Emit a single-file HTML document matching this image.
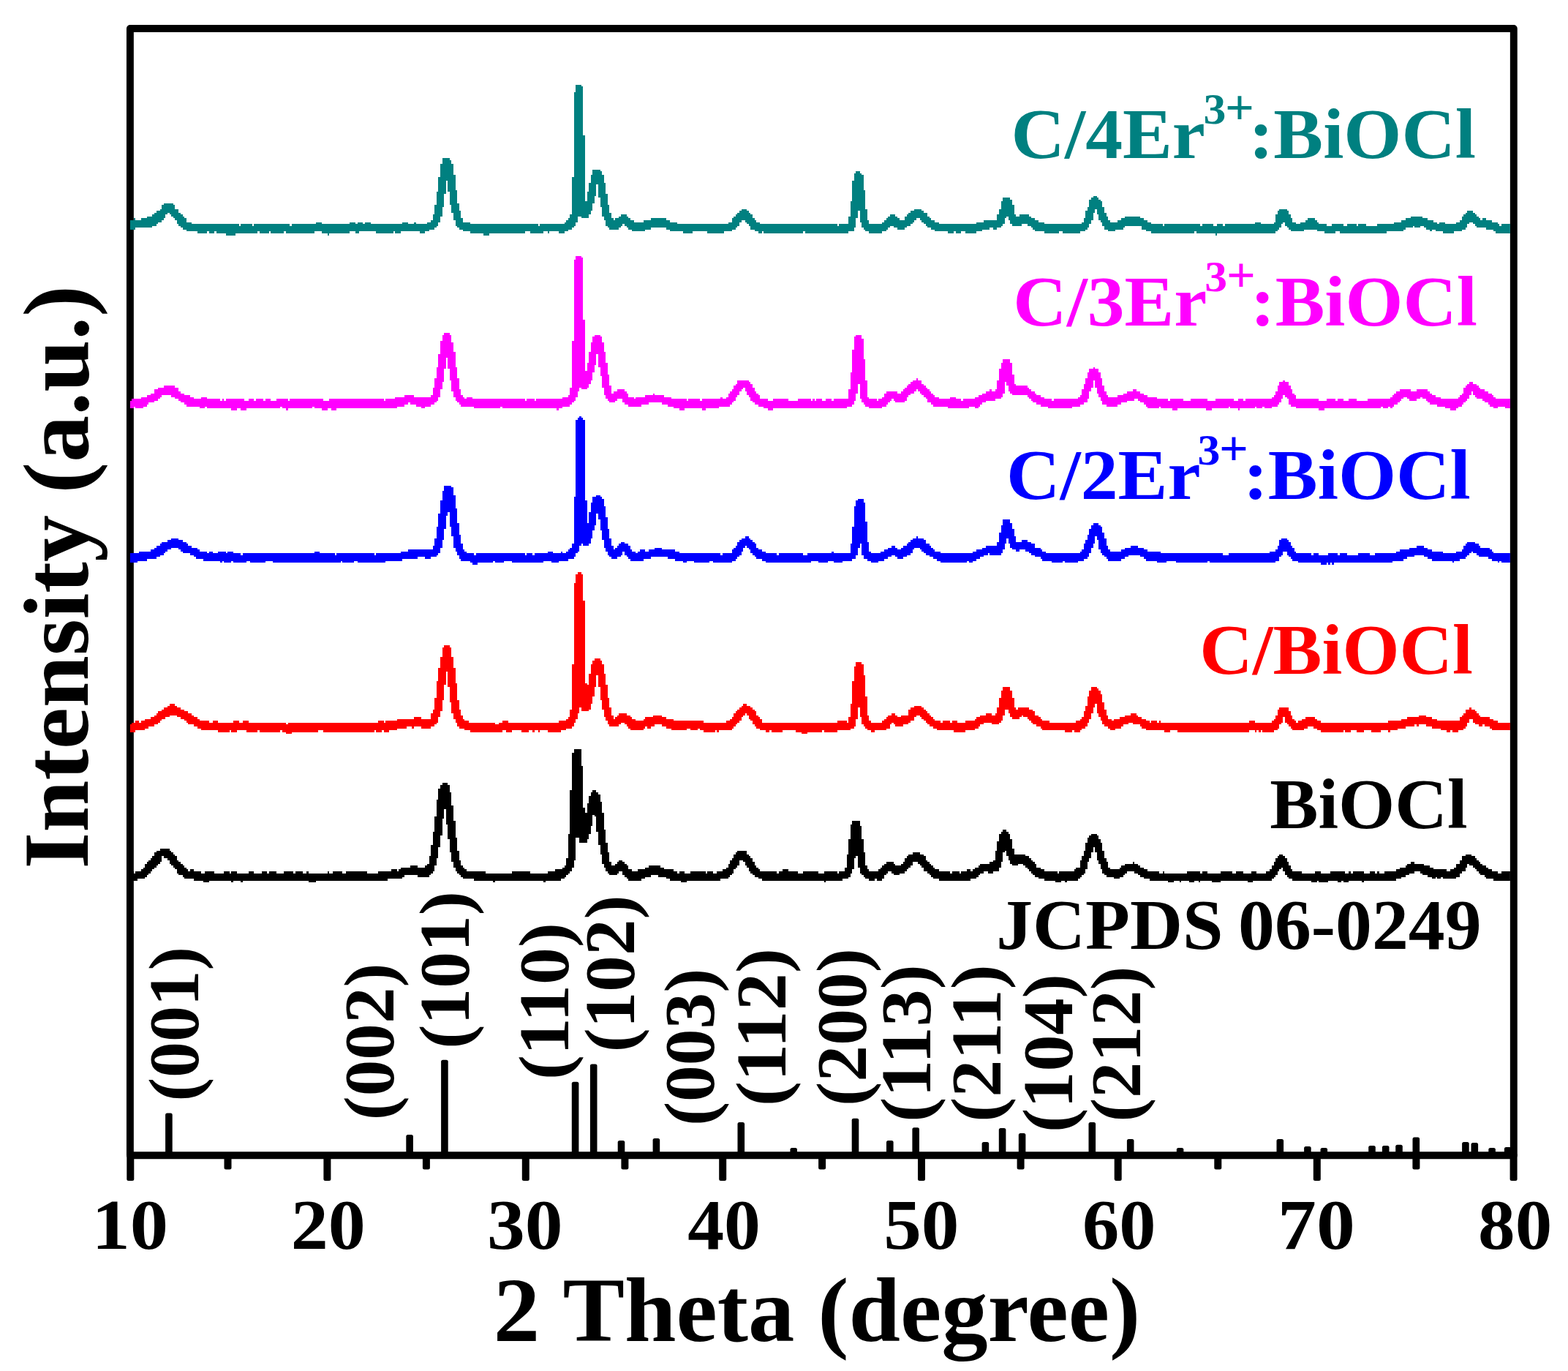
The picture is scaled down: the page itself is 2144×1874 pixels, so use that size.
<!DOCTYPE html>
<html lang="en"><head><meta charset="utf-8"><title>XRD patterns</title>
<style>
html,body{margin:0;padding:0;background:#fff;overflow:hidden}
svg{display:block}
</style></head>
<body>
<svg width="2144" height="1874" viewBox="0 0 2144 1874">
<rect x="0" y="0" width="2144" height="1874" fill="#ffffff"/>
<rect x="177.9" y="39.0" width="1891.9" height="1540.2" fill="none" stroke="#000" stroke-width="9.9" stroke-linejoin="round"/>
<clipPath id="plot"><rect x="177.9" y="39.0" width="1887.0" height="1540.2"/></clipPath>
<g clip-path="url(#plot)">
<g transform="scale(2.572400)" shape-rendering="crispEdges" stroke="none">
<path fill="#008080" d="M67 119h1v2h-1zM68 118h1v4h-1zM69 117h2v5h-2zM71 116h1v6h-1zM72 117h3v4h-3zM75 116h3v5h-3zM78 115h3v6h-3zM81 114h1v6h-1zM82 113h1v7h-1zM83 112h1v7h-1zM84 112h1v6h-1zM85 111h1v7h-1zM86 109h1v8h-1zM87 108h1v8h-1zM88 108h1v6h-1zM89 108h1v5h-1zM90 108h1v6h-1zM91 108h1v7h-1zM92 109h1v7h-1zM93 111h1v6h-1zM94 111h1v8h-1zM95 113h1v7h-1zM96 114h1v7h-1zM97 115h1v7h-1zM98 116h1v6h-1zM99 118h3v5h-3zM102 119h3v4h-3zM105 119h5v5h-5zM110 119h1v4h-1zM111 119h3v5h-3zM114 119h1v4h-1zM115 119h5v5h-5zM120 119h5v6h-5zM125 119h2v5h-2zM127 120h1v4h-1zM128 119h6v5h-6zM134 120h1v4h-1zM135 119h2v5h-2zM137 119h1v4h-1zM138 119h5v5h-5zM143 119h1v4h-1zM144 119h7v5h-7zM151 119h1v4h-1zM152 119h2v5h-2zM154 120h1v4h-1zM155 119h12v5h-12zM167 119h1v4h-1zM168 118h3v5h-3zM171 119h3v5h-3zM174 119h1v6h-1zM175 119h11v5h-11zM186 118h3v5h-3zM189 119h1v5h-1zM190 118h1v6h-1zM191 118h2v5h-2zM193 119h1v4h-1zM194 118h3v5h-3zM197 119h3v4h-3zM200 119h9v5h-9zM209 119h1v4h-1zM210 119h3v5h-3zM213 119h1v4h-1zM214 118h3v5h-3zM217 119h3v4h-3zM220 118h1v5h-1zM221 119h2v4h-2zM223 119h3v5h-3zM226 119h1v4h-1zM227 118h1v5h-1zM228 118h1v4h-1zM229 117h1v5h-1zM230 114h1v8h-1zM231 109h1v12h-1zM232 102h1v18h-1zM233 94h1v24h-1zM234 87h1v28h-1zM235 84h1v26h-1zM236 84h1v19h-1zM237 84h1v12h-1zM238 84h1v18h-1zM239 85h1v24h-1zM240 87h1v26h-1zM241 93h1v24h-1zM242 101h1v19h-1zM243 108h1v13h-1zM244 112h1v10h-1zM245 116h1v6h-1zM246 118h4v5h-4zM250 119h7v5h-7zM257 119h3v6h-3zM260 119h19v5h-19zM279 119h3v4h-3zM282 119h4v5h-4zM286 120h1v4h-1zM287 119h2v5h-2zM289 119h2v4h-2zM291 119h1v5h-1zM292 119h5v4h-5zM297 119h3v5h-3zM300 118h1v5h-1zM301 117h1v6h-1zM302 116h1v6h-1zM303 114h1v8h-1zM304 94h1v27h-1zM305 49h1v71h-1zM306 45h1v73h-1zM307 45h2v70h-2zM309 46h1v70h-1zM310 72h1v44h-1zM311 107h1v9h-1zM312 102h1v14h-1zM313 97h1v17h-1zM314 93h1v19h-1zM315 90h1v18h-1zM316 90h1v14h-1zM317 90h1v8h-1zM318 90h1v15h-1zM319 91h1v19h-1zM320 93h1v22h-1zM321 97h1v20h-1zM322 103h1v17h-1zM323 109h1v12h-1zM324 113h1v9h-1zM325 116h1v6h-1zM326 117h1v5h-1zM327 116h2v6h-2zM329 115h1v6h-1zM330 114h1v6h-1zM331 114h1v5h-1zM332 114h1v6h-1zM333 115h1v6h-1zM334 116h1v6h-1zM335 117h1v5h-1zM336 117h1v6h-1zM337 118h5v5h-5zM342 117h1v6h-1zM343 117h3v5h-3zM346 116h8v5h-8zM354 117h2v5h-2zM356 118h4v5h-4zM360 119h3v4h-3zM363 119h5v5h-5zM368 119h8v4h-8zM376 119h9v5h-9zM385 119h2v4h-2zM387 118h2v5h-2zM389 116h1v6h-1zM390 115h1v7h-1zM391 114h1v7h-1zM392 113h1v7h-1zM393 112h1v6h-1zM394 111h2v6h-2zM396 111h1v7h-1zM397 112h1v7h-1zM398 113h1v7h-1zM399 114h1v8h-1zM400 116h1v6h-1zM401 117h1v6h-1zM402 118h1v5h-1zM403 118h1v6h-1zM404 119h1v5h-1zM405 119h1v4h-1zM406 119h21v5h-21zM427 119h1v4h-1zM428 119h17v5h-17zM445 120h1v4h-1zM446 119h5v5h-5zM451 115h1v8h-1zM452 107h1v16h-1zM453 96h1v27h-1zM454 92h1v29h-1zM455 91h1v25h-1zM456 91h1v21h-1zM457 92h1v26h-1zM458 93h1v28h-1zM459 101h1v21h-1zM460 111h1v12h-1zM461 117h1v6h-1zM462 119h7v5h-7zM469 118h1v5h-1zM470 117h1v6h-1zM471 116h1v6h-1zM472 115h1v6h-1zM473 114h2v6h-2zM475 114h1v7h-1zM476 115h1v6h-1zM477 116h1v6h-1zM478 117h3v5h-3zM481 115h1v6h-1zM482 114h1v6h-1zM483 113h1v7h-1zM484 112h1v7h-1zM485 112h1v6h-1zM486 111h1v6h-1zM487 111h2v5h-2zM489 111h1v6h-1zM490 112h1v6h-1zM491 113h1v6h-1zM492 113h1v7h-1zM493 115h1v6h-1zM494 116h1v5h-1zM495 117h2v5h-2zM497 118h2v5h-2zM499 119h5v4h-5zM504 119h3v5h-3zM507 119h1v4h-1zM508 119h3v5h-3zM511 119h2v4h-2zM513 119h6v5h-6zM519 118h3v5h-3zM522 118h1v4h-1zM523 117h3v5h-3zM526 117h2v4h-2zM528 117h2v5h-2zM530 114h1v7h-1zM531 111h1v10h-1zM532 107h1v13h-1zM533 105h1v14h-1zM534 105h1v11h-1zM535 105h1v10h-1zM536 105h1v12h-1zM537 106h1v13h-1zM538 109h1v11h-1zM539 114h1v6h-1zM540 115h2v5h-2zM542 114h1v6h-1zM543 114h3v5h-3zM546 114h1v6h-1zM547 115h1v5h-1zM548 116h1v5h-1zM549 116h1v6h-1zM550 117h2v6h-2zM552 118h3v5h-3zM555 119h8v5h-8zM563 119h2v4h-2zM565 119h9v5h-9zM574 119h1v4h-1zM575 118h1v5h-1zM576 116h1v7h-1zM577 112h1v10h-1zM578 110h1v11h-1zM579 106h1v13h-1zM580 105h1v12h-1zM581 104h1v9h-1zM582 104h1v7h-1zM583 105h1v9h-1zM584 106h1v11h-1zM585 107h1v11h-1zM586 110h1v10h-1zM587 113h1v9h-1zM588 115h1v7h-1zM589 117h1v6h-1zM590 118h3v5h-3zM593 118h1v4h-1zM594 117h2v5h-2zM596 116h1v6h-1zM597 116h1v5h-1zM598 115h8v5h-8zM606 116h1v4h-1zM607 116h1v6h-1zM608 117h1v5h-1zM609 117h1v6h-1zM610 118h2v5h-2zM612 119h6v5h-6zM618 120h1v4h-1zM619 119h16v5h-16zM635 119h1v4h-1zM636 119h2v5h-2zM638 120h1v4h-1zM639 119h6v5h-6zM645 120h1v4h-1zM646 120h1v5h-1zM647 119h3v5h-3zM650 120h1v4h-1zM651 119h16v5h-16zM667 118h3v6h-3zM670 119h7v5h-7zM677 118h1v6h-1zM678 114h1v9h-1zM679 112h1v10h-1zM680 111h1v10h-1zM681 111h1v8h-1zM682 111h1v7h-1zM683 111h1v9h-1zM684 112h1v9h-1zM685 114h1v8h-1zM686 116h1v7h-1zM687 118h2v5h-2zM689 119h2v4h-2zM691 118h2v5h-2zM693 118h1v4h-1zM694 117h1v5h-1zM695 116h4v6h-4zM699 117h1v5h-1zM700 118h1v5h-1zM701 119h3v4h-3zM704 119h1v5h-1zM705 120h3v4h-3zM708 119h2v5h-2zM710 119h2v4h-2zM712 119h2v5h-2zM714 120h2v4h-2zM716 119h5v5h-5zM721 120h1v4h-1zM722 119h4v5h-4zM726 120h6v4h-6zM732 119h5v5h-5zM737 119h4v4h-4zM741 118h4v5h-4zM745 117h1v6h-1zM746 117h1v5h-1zM747 116h3v5h-3zM750 115h1v6h-1zM751 115h1v5h-1zM752 115h3v6h-3zM755 115h1v5h-1zM756 116h1v4h-1zM757 116h1v5h-1zM758 116h1v6h-1zM759 117h1v5h-1zM760 117h1v6h-1zM761 117h1v5h-1zM762 118h1v4h-1zM763 118h1v5h-1zM764 119h1v4h-1zM765 118h2v5h-2zM767 118h1v6h-1zM768 119h5v5h-5zM773 119h1v4h-1zM774 118h2v5h-2zM776 117h1v6h-1zM777 115h1v7h-1zM778 114h1v8h-1zM779 113h1v8h-1zM780 112h1v7h-1zM781 112h2v6h-2zM783 113h1v6h-1zM784 114h1v6h-1zM785 115h1v6h-1zM786 116h1v5h-1zM787 117h1v4h-1zM788 116h2v5h-2zM790 117h3v5h-3zM793 118h1v4h-1zM794 118h1v5h-1zM795 118h1v6h-1zM796 119h1v5h-1zM797 120h1v4h-1zM798 119h6v5h-6zM804 120h2v4h-2zM806 121h1v2h-1z"/>
<path fill="#ff00ff" d="M67 214h1v2h-1zM68 213h2v4h-2zM70 212h1v5h-1zM71 212h1v4h-1zM72 212h3v5h-3zM75 211h1v6h-1zM76 211h2v5h-2zM78 210h1v5h-1zM79 210h1v4h-1zM80 209h2v5h-2zM82 207h2v6h-2zM84 206h1v6h-1zM85 206h1v5h-1zM86 206h1v4h-1zM87 205h4v5h-4zM91 205h2v6h-2zM93 206h2v6h-2zM95 208h1v5h-1zM96 209h2v5h-2zM98 210h1v5h-1zM99 210h2v6h-2zM101 211h2v5h-2zM103 212h3v4h-3zM106 212h1v5h-1zM107 211h2v6h-2zM109 211h1v5h-1zM110 212h7v5h-7zM117 213h1v4h-1zM118 212h1v5h-1zM119 213h1v4h-1zM120 212h3v5h-3zM123 212h3v6h-3zM126 212h2v5h-2zM128 212h2v6h-2zM130 213h1v5h-1zM131 213h1v4h-1zM132 212h3v5h-3zM135 213h1v4h-1zM136 212h4v5h-4zM140 213h1v4h-1zM141 212h3v5h-3zM144 213h3v4h-3zM147 212h2v5h-2zM149 212h1v4h-1zM150 212h2v5h-2zM152 212h1v6h-1zM153 213h1v4h-1zM154 212h12v5h-12zM166 212h1v4h-1zM167 212h4v5h-4zM171 212h1v6h-1zM172 213h2v5h-2zM174 213h1v4h-1zM175 212h1v5h-1zM176 212h3v6h-3zM179 212h25v5h-25zM204 213h1v4h-1zM205 212h5v5h-5zM210 211h1v6h-1zM211 211h4v5h-4zM215 210h2v5h-2zM217 210h1v4h-1zM218 210h2v5h-2zM220 211h1v4h-1zM221 211h3v5h-3zM224 211h2v6h-2zM226 211h3v5h-3zM229 210h1v5h-1zM230 206h1v9h-1zM231 201h1v13h-1zM232 195h1v18h-1zM233 188h1v23h-1zM234 181h1v26h-1zM235 178h1v25h-1zM236 177h1v19h-1zM237 177h1v13h-1zM238 177h1v19h-1zM239 178h1v24h-1zM240 182h1v26h-1zM241 187h1v24h-1zM242 195h1v18h-1zM243 201h1v13h-1zM244 207h1v8h-1zM245 210h1v6h-1zM246 211h1v5h-1zM247 212h1v4h-1zM248 211h3v5h-3zM251 212h1v4h-1zM252 212h14v5h-14zM266 212h1v4h-1zM267 212h12v5h-12zM279 213h1v4h-1zM280 212h4v5h-4zM284 213h1v4h-1zM285 212h11v5h-11zM296 212h1v6h-1zM297 212h2v5h-2zM299 211h3v5h-3zM302 210h1v6h-1zM303 206h1v9h-1zM304 181h1v33h-1zM305 138h1v75h-1zM306 136h1v75h-1zM307 136h1v72h-1zM308 136h1v70h-1zM309 137h1v70h-1zM310 170h1v37h-1zM311 197h1v10h-1zM312 193h1v13h-1zM313 187h1v17h-1zM314 182h1v20h-1zM315 179h1v19h-1zM316 178h1v16h-1zM317 178h1v10h-1zM318 178h1v17h-1zM319 179h1v21h-1zM320 182h1v24h-1zM321 187h1v23h-1zM322 193h1v19h-1zM323 199h1v14h-1zM324 205h1v9h-1zM325 209h1v5h-1zM326 208h1v6h-1zM327 208h1v5h-1zM328 207h3v5h-3zM331 207h1v7h-1zM332 208h1v7h-1zM333 209h1v6h-1zM334 211h3v5h-3zM337 212h1v4h-1zM338 211h3v5h-3zM341 211h2v4h-2zM343 210h2v5h-2zM345 210h2v4h-2zM347 209h1v5h-1zM348 210h4v4h-4zM352 210h1v5h-1zM353 211h2v4h-2zM355 211h2v5h-2zM357 212h1v4h-1zM358 212h3v5h-3zM361 212h3v6h-3zM364 212h1v5h-1zM365 213h1v4h-1zM366 212h6v5h-6zM372 213h1v4h-1zM373 212h2v6h-2zM375 212h7v5h-7zM382 212h1v4h-1zM383 211h1v5h-1zM384 212h2v4h-2zM386 211h1v5h-1zM387 209h1v7h-1zM388 208h1v7h-1zM389 207h1v7h-1zM390 205h1v8h-1zM391 204h1v7h-1zM392 202h1v8h-1zM393 202h1v6h-1zM394 202h1v5h-1zM395 202h1v4h-1zM396 202h1v6h-1zM397 202h1v8h-1zM398 203h1v8h-1zM399 204h1v9h-1zM400 206h1v8h-1zM401 208h1v7h-1zM402 209h1v6h-1zM403 210h1v6h-1zM404 212h2v4h-2zM406 212h2v5h-2zM408 213h3v5h-3zM411 212h8v5h-8zM419 213h5v4h-5zM424 212h7v5h-7zM431 213h1v4h-1zM432 212h1v5h-1zM433 213h1v4h-1zM434 212h3v5h-3zM437 213h2v4h-2zM439 212h3v5h-3zM442 213h1v4h-1zM443 212h7v5h-7zM450 212h1v4h-1zM451 207h1v9h-1zM452 198h1v18h-1zM453 186h1v29h-1zM454 179h1v34h-1zM455 178h1v31h-1zM456 178h1v26h-1zM457 178h1v34h-1zM458 180h1v34h-1zM459 191h1v24h-1zM460 202h1v14h-1zM461 211h1v5h-1zM462 212h4v5h-4zM466 213h1v4h-1zM467 212h2v5h-2zM469 211h1v5h-1zM470 209h1v7h-1zM471 208h1v7h-1zM472 208h1v6h-1zM473 208h1v5h-1zM474 208h1v4h-1zM475 208h1v5h-1zM476 208h1v6h-1zM477 209h2v5h-2zM479 208h1v6h-1zM480 207h1v7h-1zM481 206h1v7h-1zM482 205h1v6h-1zM483 204h1v6h-1zM484 203h1v6h-1zM485 202h1v7h-1zM486 202h1v6h-1zM487 201h1v6h-1zM488 202h1v6h-1zM489 202h1v7h-1zM490 204h1v6h-1zM491 205h1v6h-1zM492 206h1v6h-1zM493 207h1v7h-1zM494 208h1v6h-1zM495 209h1v6h-1zM496 210h1v6h-1zM497 211h2v5h-2zM499 212h5v4h-5zM504 212h1v5h-1zM505 211h3v6h-3zM508 212h3v5h-3zM511 213h1v4h-1zM512 212h3v5h-3zM515 212h3v4h-3zM518 211h2v6h-2zM520 210h1v6h-1zM521 210h1v5h-1zM522 209h2v5h-2zM524 208h2v5h-2zM526 207h1v6h-1zM527 208h2v5h-2zM529 207h1v5h-1zM530 202h1v10h-1zM531 196h1v16h-1zM532 193h1v18h-1zM533 191h1v18h-1zM534 191h1v12h-1zM535 191h1v14h-1zM536 191h1v17h-1zM537 193h1v16h-1zM538 199h1v11h-1zM539 204h1v6h-1zM540 205h6v5h-6zM546 206h1v5h-1zM547 207h1v5h-1zM548 208h1v5h-1zM549 208h1v6h-1zM550 209h1v5h-1zM551 210h2v5h-2zM553 211h2v5h-2zM555 212h2v4h-2zM557 212h2v5h-2zM559 213h1v4h-1zM560 212h10v5h-10zM570 212h3v4h-3zM573 211h1v5h-1zM574 210h1v5h-1zM575 207h1v8h-1zM576 204h1v10h-1zM577 201h1v13h-1zM578 198h1v14h-1zM579 196h1v12h-1zM580 196h1v10h-1zM581 195h1v7h-1zM582 196h1v10h-1zM583 196h1v13h-1zM584 198h1v13h-1zM585 201h1v12h-1zM586 205h1v10h-1zM587 208h1v7h-1zM588 210h1v6h-1zM589 211h5v5h-5zM594 210h2v5h-2zM596 210h1v4h-1zM597 209h2v5h-2zM599 208h3v5h-3zM602 207h1v6h-1zM603 207h1v5h-1zM604 208h1v4h-1zM605 208h1v5h-1zM606 209h2v5h-2zM608 210h1v5h-1zM609 210h1v6h-1zM610 211h5v6h-5zM615 212h1v5h-1zM616 212h1v4h-1zM617 212h4v5h-4zM621 213h1v4h-1zM622 212h1v5h-1zM623 212h3v6h-3zM626 212h3v5h-3zM629 213h4v4h-4zM633 212h8v5h-8zM641 212h1v6h-1zM642 213h2v5h-2zM644 213h2v4h-2zM646 212h7v5h-7zM653 212h1v4h-1zM654 212h2v5h-2zM656 213h2v4h-2zM658 212h1v6h-1zM659 212h2v5h-2zM661 213h1v4h-1zM662 212h5v5h-5zM667 212h1v4h-1zM668 212h3v5h-3zM671 212h1v4h-1zM672 212h4v5h-4zM676 211h1v5h-1zM677 210h1v6h-1zM678 208h1v8h-1zM679 205h1v10h-1zM680 203h1v11h-1zM681 203h1v9h-1zM682 202h1v8h-1zM683 203h1v8h-1zM684 203h1v9h-1zM685 205h1v10h-1zM686 207h1v9h-1zM687 209h1v7h-1zM688 210h1v6h-1zM689 212h12v5h-12zM701 213h3v5h-3zM704 213h1v4h-1zM705 212h5v5h-5zM710 213h1v4h-1zM711 212h3v5h-3zM714 213h3v4h-3zM717 212h4v5h-4zM721 213h6v4h-6zM727 212h7v5h-7zM734 212h1v4h-1zM735 212h3v5h-3zM738 212h1v4h-1zM739 211h1v6h-1zM740 210h1v6h-1zM741 209h1v6h-1zM742 208h1v7h-1zM743 208h1v6h-1zM744 207h1v6h-1zM745 207h1v5h-1zM746 207h2v4h-2zM748 207h1v5h-1zM749 207h1v6h-1zM750 208h3v5h-3zM753 207h2v5h-2zM755 207h1v4h-1zM756 207h2v5h-2zM758 207h1v6h-1zM759 208h1v6h-1zM760 209h1v6h-1zM761 210h2v5h-2zM763 211h1v4h-1zM764 211h2v5h-2zM766 212h2v4h-2zM768 212h3v5h-3zM771 212h3v6h-3zM774 212h1v5h-1zM775 211h1v5h-1zM776 210h1v6h-1zM777 209h1v6h-1zM778 206h1v8h-1zM779 205h1v8h-1zM780 204h1v8h-1zM781 203h1v7h-1zM782 203h1v5h-1zM783 204h1v6h-1zM784 204h1v7h-1zM785 205h1v7h-1zM786 206h1v6h-1zM787 207h1v5h-1zM788 207h1v6h-1zM789 208h2v6h-2zM791 209h1v6h-1zM792 209h1v7h-1zM793 210h1v6h-1zM794 211h1v6h-1zM795 212h1v5h-1zM796 212h4v4h-4zM800 212h5v5h-5zM805 212h1v4h-1zM806 214h1v1h-1z"/>
<path fill="#0000ff" d="M67 296h1v2h-1zM68 295h1v4h-1zM69 294h4v5h-4zM73 294h1v4h-1zM74 293h4v5h-4zM78 293h2v4h-2zM80 292h2v5h-2zM82 291h1v6h-1zM83 290h2v6h-2zM85 289h1v6h-1zM86 288h1v7h-1zM87 288h1v6h-1zM88 288h1v5h-1zM89 287h2v5h-2zM91 286h4v5h-4zM95 287h1v5h-1zM96 287h1v6h-1zM97 288h2v6h-2zM99 289h1v5h-1zM100 290h1v4h-1zM101 290h1v5h-1zM102 291h1v4h-1zM103 291h1v5h-1zM104 291h1v6h-1zM105 292h1v5h-1zM106 293h2v4h-2zM108 293h2v5h-2zM110 294h1v4h-1zM111 293h2v5h-2zM113 294h3v4h-3zM116 293h1v5h-1zM117 293h1v6h-1zM118 293h1v5h-1zM119 293h1v6h-1zM120 294h1v5h-1zM121 293h2v6h-2zM123 293h1v5h-1zM124 294h4v5h-4zM128 295h1v4h-1zM129 294h2v5h-2zM131 294h2v4h-2zM133 294h8v5h-8zM141 294h4v4h-4zM145 294h22v5h-22zM167 293h3v6h-3zM170 294h8v5h-8zM178 295h1v4h-1zM179 294h2v5h-2zM181 294h1v4h-1zM182 294h6v5h-6zM188 294h2v4h-2zM190 294h9v5h-9zM199 295h1v4h-1zM200 294h5v5h-5zM205 294h8v4h-8zM213 293h1v5h-1zM214 293h3v4h-3zM217 292h5v5h-5zM222 292h4v4h-4zM226 292h3v5h-3zM229 292h1v4h-1zM230 290h1v6h-1zM231 286h1v10h-1zM232 280h1v15h-1zM233 273h1v21h-1zM234 266h1v25h-1zM235 261h1v26h-1zM236 258h1v23h-1zM237 258h1v16h-1zM238 258h1v14h-1zM239 258h1v22h-1zM240 259h1v26h-1zM241 263h1v28h-1zM242 270h1v23h-1zM243 278h1v17h-1zM244 284h1v13h-1zM245 289h1v9h-1zM246 292h1v6h-1zM247 293h1v5h-1zM248 294h2v4h-2zM250 294h1v5h-1zM251 294h1v6h-1zM252 295h1v5h-1zM253 294h1v6h-1zM254 294h8v5h-8zM262 294h1v4h-1zM263 294h5v5h-5zM268 294h4v4h-4zM272 294h7v5h-7zM279 295h1v4h-1zM280 294h3v5h-3zM283 295h1v4h-1zM284 294h5v5h-5zM289 294h2v4h-2zM291 293h2v5h-2zM293 293h1v6h-1zM294 294h3v5h-3zM297 294h1v4h-1zM298 293h1v5h-1zM299 294h2v4h-2zM301 293h1v5h-1zM302 292h1v5h-1zM303 291h1v6h-1zM304 289h1v8h-1zM305 264h1v32h-1zM306 223h1v71h-1zM307 222h1v71h-1zM308 221h1v69h-1zM309 222h1v67h-1zM310 223h1v67h-1zM311 266h1v24h-1zM312 278h1v12h-1zM313 272h1v17h-1zM314 267h1v19h-1zM315 264h1v18h-1zM316 264h1v15h-1zM317 263h1v10h-1zM318 263h1v13h-1zM319 264h1v18h-1zM320 265h1v22h-1zM321 269h1v22h-1zM322 275h1v18h-1zM323 281h1v14h-1zM324 286h1v10h-1zM325 290h1v7h-1zM326 292h1v5h-1zM327 291h1v6h-1zM328 290h1v6h-1zM329 289h1v7h-1zM330 288h1v7h-1zM331 288h1v5h-1zM332 289h1v6h-1zM333 289h1v7h-1zM334 290h1v7h-1zM335 292h1v6h-1zM336 293h2v5h-2zM338 294h1v4h-1zM339 293h1v5h-1zM340 292h2v6h-2zM342 292h1v5h-1zM343 293h2v4h-2zM345 292h1v5h-1zM346 292h2v4h-2zM348 291h4v5h-4zM352 292h3v4h-3zM355 292h4v5h-4zM359 293h2v5h-2zM361 294h2v4h-2zM363 294h2v5h-2zM365 294h4v4h-4zM369 294h8v5h-8zM377 294h2v4h-2zM379 294h4v5h-4zM383 295h1v4h-1zM384 294h5v5h-5zM389 292h1v6h-1zM390 291h1v7h-1zM391 290h1v7h-1zM392 288h1v8h-1zM393 287h1v8h-1zM394 286h1v7h-1zM395 286h1v5h-1zM396 285h1v5h-1zM397 285h1v6h-1zM398 286h1v6h-1zM399 287h1v7h-1zM400 288h1v7h-1zM401 289h1v7h-1zM402 291h1v6h-1zM403 292h2v5h-2zM405 293h2v5h-2zM407 294h6v5h-6zM413 295h1v4h-1zM414 294h13v5h-13zM427 295h2v4h-2zM429 294h2v5h-2zM431 294h4v4h-4zM435 294h5v5h-5zM440 294h2v4h-2zM442 293h1v5h-1zM443 294h5v5h-5zM448 294h4v4h-4zM452 289h1v9h-1zM453 280h1v17h-1zM454 269h1v28h-1zM455 266h1v29h-1zM456 265h1v26h-1zM457 265h1v24h-1zM458 265h1v30h-1zM459 267h1v30h-1zM460 277h1v20h-1zM461 288h1v10h-1zM462 293h1v5h-1zM463 294h4v5h-4zM467 294h1v4h-1zM468 293h2v5h-2zM470 292h2v5h-2zM472 291h2v5h-2zM474 290h2v5h-2zM476 291h1v5h-1zM477 292h2v5h-2zM479 291h1v6h-1zM480 290h2v6h-2zM482 289h1v6h-1zM483 288h1v7h-1zM484 287h1v7h-1zM485 286h1v6h-1zM486 286h1v5h-1zM487 285h1v6h-1zM488 286h1v5h-1zM489 286h1v6h-1zM490 286h1v7h-1zM491 287h1v7h-1zM492 289h2v6h-2zM494 290h1v6h-1zM495 291h1v5h-1zM496 292h1v5h-1zM497 293h1v4h-1zM498 293h2v5h-2zM500 294h14v5h-14zM514 294h1v4h-1zM515 294h2v5h-2zM517 293h2v5h-2zM519 292h2v5h-2zM521 292h1v4h-1zM522 291h1v5h-1zM523 291h1v4h-1zM524 290h1v5h-1zM525 290h1v4h-1zM526 290h4v5h-4zM530 288h1v7h-1zM531 283h1v12h-1zM532 279h1v15h-1zM533 276h1v16h-1zM534 276h1v13h-1zM535 276h1v10h-1zM536 276h1v13h-1zM537 278h1v13h-1zM538 281h1v11h-1zM539 285h1v7h-1zM540 288h2v5h-2zM542 288h1v4h-1zM543 287h2v5h-2zM545 287h1v6h-1zM546 288h1v5h-1zM547 288h1v6h-1zM548 289h2v6h-2zM550 291h3v5h-3zM553 292h1v5h-1zM554 293h2v5h-2zM556 294h3v4h-3zM559 294h6v5h-6zM565 294h1v4h-1zM566 294h7v5h-7zM573 294h1v4h-1zM574 293h1v5h-1zM575 292h1v6h-1zM576 289h1v8h-1zM577 287h1v10h-1zM578 284h1v12h-1zM579 281h1v13h-1zM580 279h1v12h-1zM581 278h1v11h-1zM582 278h1v7h-1zM583 278h1v9h-1zM584 279h1v13h-1zM585 280h1v14h-1zM586 283h1v12h-1zM587 286h1v10h-1zM588 290h1v7h-1zM589 292h1v6h-1zM590 293h6v5h-6zM596 292h2v5h-2zM598 291h2v5h-2zM600 291h1v4h-1zM601 290h4v5h-4zM605 291h1v4h-1zM606 291h2v5h-2zM608 292h1v5h-1zM609 292h1v6h-1zM610 293h5v5h-5zM615 293h2v6h-2zM617 294h3v5h-3zM620 294h5v4h-5zM625 294h17v5h-17zM642 294h1v4h-1zM643 294h7v5h-7zM650 295h3v4h-3zM653 294h22v5h-22zM675 293h3v6h-3zM678 292h1v6h-1zM679 290h1v8h-1zM680 287h1v9h-1zM681 286h1v9h-1zM682 286h2v7h-2zM684 287h1v8h-1zM685 288h1v8h-1zM686 290h1v7h-1zM687 291h1v7h-1zM688 293h1v5h-1zM689 294h1v4h-1zM690 294h7v5h-7zM697 295h1v4h-1zM698 294h3v5h-3zM701 295h1v4h-1zM702 295h3v5h-3zM705 295h1v4h-1zM706 294h1v6h-1zM707 294h1v5h-1zM708 294h1v6h-1zM709 294h2v5h-2zM711 295h1v4h-1zM712 294h4v5h-4zM716 295h6v4h-6zM722 294h6v5h-6zM728 295h3v4h-3zM731 294h9v5h-9zM740 294h2v4h-2zM742 293h2v5h-2zM744 292h2v6h-2zM746 292h2v5h-2zM748 292h1v4h-1zM749 291h3v5h-3zM752 291h1v4h-1zM753 290h4v5h-4zM757 291h2v5h-2zM759 292h2v5h-2zM761 293h6v5h-6zM767 294h5v4h-5zM772 294h1v5h-1zM773 294h1v4h-1zM774 293h2v5h-2zM776 293h1v4h-1zM777 292h1v5h-1zM778 290h1v7h-1zM779 289h1v7h-1zM780 288h1v7h-1zM781 288h1v6h-1zM782 288h1v5h-1zM783 288h1v6h-1zM784 289h1v5h-1zM785 289h1v6h-1zM786 290h1v6h-1zM787 291h4v5h-4zM791 291h1v6h-1zM792 292h1v5h-1zM793 293h1v5h-1zM794 294h2v4h-2zM796 294h1v5h-1zM797 294h1v4h-1zM798 294h7v5h-7zM805 294h1v4h-1zM806 295h1v2h-1z"/>
<path fill="#ff0000" d="M67 386h1v2h-1zM68 385h2v4h-2zM70 384h2v5h-2zM72 383h2v5h-2zM74 384h1v4h-1zM75 383h2v5h-2zM77 382h2v5h-2zM79 382h1v4h-1zM80 381h2v5h-2zM82 380h1v5h-1zM83 379h1v6h-1zM84 378h1v6h-1zM85 378h1v5h-1zM86 377h1v5h-1zM87 376h1v6h-1zM88 376h1v5h-1zM89 375h1v6h-1zM90 374h3v6h-3zM93 375h1v5h-1zM94 376h2v5h-2zM96 377h2v5h-2zM98 378h1v5h-1zM99 378h1v6h-1zM100 379h2v6h-2zM102 380h1v5h-1zM103 381h2v5h-2zM105 382h1v5h-1zM106 383h1v4h-1zM107 383h4v5h-4zM111 384h2v4h-2zM113 383h3v5h-3zM116 384h6v5h-6zM122 384h1v4h-1zM123 384h1v5h-1zM124 383h2v6h-2zM126 383h1v5h-1zM127 384h2v4h-2zM129 383h2v5h-2zM131 383h1v6h-1zM132 384h5v5h-5zM137 384h1v4h-1zM138 384h11v5h-11zM149 384h1v4h-1zM150 384h2v5h-2zM152 385h1v5h-1zM153 384h2v6h-2zM155 384h14v5h-14zM169 384h3v4h-3zM172 384h27v5h-27zM199 384h1v4h-1zM200 384h1v5h-1zM201 383h2v6h-2zM203 383h1v5h-1zM204 384h1v5h-1zM205 383h2v6h-2zM207 383h4v5h-4zM211 382h5v5h-5zM216 382h3v4h-3zM219 382h1v5h-1zM220 381h4v5h-4zM224 382h5v5h-5zM229 379h1v7h-1zM230 377h1v9h-1zM231 371h1v14h-1zM232 362h1v22h-1zM233 355h1v26h-1zM234 349h1v29h-1zM235 344h1v28h-1zM236 343h1v21h-1zM237 343h1v14h-1zM238 343h1v22h-1zM239 344h1v29h-1zM240 349h1v30h-1zM241 355h1v27h-1zM242 363h1v21h-1zM243 372h1v14h-1zM244 377h1v10h-1zM245 380h1v7h-1zM246 382h1v5h-1zM247 383h2v5h-2zM249 384h1v4h-1zM250 384h13v5h-13zM263 385h2v4h-2zM265 384h2v5h-2zM267 383h2v5h-2zM269 383h1v6h-1zM270 384h2v5h-2zM272 384h5v4h-5zM277 384h4v5h-4zM281 384h2v4h-2zM283 384h1v5h-1zM284 384h2v4h-2zM286 384h1v5h-1zM287 384h4v4h-4zM291 384h6v5h-6zM297 383h1v6h-1zM298 383h3v5h-3zM301 382h1v5h-1zM302 381h1v6h-1zM303 377h1v10h-1zM304 353h1v33h-1zM305 310h1v74h-1zM306 305h1v77h-1zM307 304h1v75h-1zM308 304h1v72h-1zM309 305h1v73h-1zM310 319h1v59h-1zM311 363h1v15h-1zM312 364h1v14h-1zM313 358h1v19h-1zM314 353h1v21h-1zM315 351h1v19h-1zM316 350h1v15h-1zM317 350h1v9h-1zM318 350h1v15h-1zM319 351h1v21h-1zM320 353h1v24h-1zM321 358h1v23h-1zM322 364h1v19h-1zM323 371h1v14h-1zM324 376h1v10h-1zM325 380h1v6h-1zM326 382h1v4h-1zM327 381h1v5h-1zM328 380h1v6h-1zM329 379h1v6h-1zM330 379h2v5h-2zM332 379h1v6h-1zM333 380h1v6h-1zM334 380h1v7h-1zM335 381h1v7h-1zM336 382h2v6h-2zM338 383h4v5h-4zM342 382h1v5h-1zM343 381h1v5h-1zM344 381h2v6h-2zM346 381h1v5h-1zM347 380h1v6h-1zM348 380h4v5h-4zM352 381h2v5h-2zM354 382h3v5h-3zM357 382h1v6h-1zM358 383h7v5h-7zM365 383h2v4h-2zM367 383h4v5h-4zM371 383h1v4h-1zM372 383h2v5h-2zM374 384h6v5h-6zM380 384h1v4h-1zM381 384h1v5h-1zM382 384h4v4h-4zM386 383h2v5h-2zM388 382h1v6h-1zM389 381h1v6h-1zM390 379h1v7h-1zM391 378h1v7h-1zM392 377h1v7h-1zM393 376h1v7h-1zM394 375h1v6h-1zM395 374h1v6h-1zM396 374h1v5h-1zM397 375h1v5h-1zM398 375h1v7h-1zM399 376h1v7h-1zM400 377h1v8h-1zM401 378h1v8h-1zM402 380h1v7h-1zM403 381h1v6h-1zM404 382h1v6h-1zM405 384h2v4h-2zM407 384h2v5h-2zM409 384h1v4h-1zM410 384h6v5h-6zM416 384h7v4h-7zM423 384h3v5h-3zM426 384h3v6h-3zM429 384h8v5h-8zM437 384h1v4h-1zM438 384h7v5h-7zM445 383h5v5h-5zM450 384h1v4h-1zM451 381h1v7h-1zM452 374h1v13h-1zM453 362h1v25h-1zM454 354h1v32h-1zM455 352h1v30h-1zM456 352h1v24h-1zM457 352h1v29h-1zM458 353h1v32h-1zM459 359h1v27h-1zM460 370h1v17h-1zM461 380h1v8h-1zM462 383h1v5h-1zM463 384h2v5h-2zM465 384h4v4h-4zM469 383h1v5h-1zM470 382h1v6h-1zM471 381h1v6h-1zM472 380h1v7h-1zM473 380h1v5h-1zM474 379h1v5h-1zM475 379h1v6h-1zM476 380h1v6h-1zM477 381h2v5h-2zM479 380h1v6h-1zM480 380h3v5h-3zM483 377h1v7h-1zM484 376h2v7h-2zM486 375h1v6h-1zM487 375h2v5h-2zM489 375h1v6h-1zM490 376h1v6h-1zM491 377h1v6h-1zM492 378h1v6h-1zM493 379h1v6h-1zM494 380h1v6h-1zM495 381h1v5h-1zM496 382h1v5h-1zM497 383h1v4h-1zM498 383h2v5h-2zM500 384h1v4h-1zM501 383h4v5h-4zM505 384h1v4h-1zM506 383h1v5h-1zM507 383h2v6h-2zM509 384h4v5h-4zM513 383h5v5h-5zM518 382h1v5h-1zM519 381h1v6h-1zM520 381h1v5h-1zM521 380h2v5h-2zM523 380h1v4h-1zM524 379h3v5h-3zM527 380h2v5h-2zM529 379h1v6h-1zM530 376h1v9h-1zM531 371h1v13h-1zM532 367h1v16h-1zM533 365h1v15h-1zM534 365h2v12h-2zM536 365h1v14h-1zM537 367h1v14h-1zM538 371h1v11h-1zM539 376h1v6h-1zM540 377h1v5h-1zM541 376h1v6h-1zM542 376h1v5h-1zM543 376h1v4h-1zM544 376h2v5h-2zM546 376h1v6h-1zM547 377h1v6h-1zM548 377h1v7h-1zM549 378h1v7h-1zM550 380h1v5h-1zM551 380h1v6h-1zM552 381h1v5h-1zM553 382h1v5h-1zM554 383h4v5h-4zM558 384h8v4h-8zM566 384h4v5h-4zM570 384h1v4h-1zM571 384h1v5h-1zM572 383h2v6h-2zM574 382h1v6h-1zM575 381h1v6h-1zM576 378h1v9h-1zM577 375h1v11h-1zM578 370h1v14h-1zM579 367h1v15h-1zM580 365h1v14h-1zM581 365h1v11h-1zM582 365h1v9h-1zM583 366h1v13h-1zM584 367h1v14h-1zM585 369h1v14h-1zM586 373h1v12h-1zM587 377h1v9h-1zM588 380h1v6h-1zM589 382h1v5h-1zM590 382h1v6h-1zM591 383h1v5h-1zM592 382h1v6h-1zM593 382h2v5h-2zM595 381h1v6h-1zM596 381h1v5h-1zM597 381h1v4h-1zM598 380h2v5h-2zM600 380h1v4h-1zM601 379h1v5h-1zM602 379h2v6h-2zM604 380h1v5h-1zM605 381h1v4h-1zM606 381h1v5h-1zM607 382h2v5h-2zM609 383h2v5h-2zM611 384h1v4h-1zM612 383h3v5h-3zM615 384h1v4h-1zM616 383h1v5h-1zM617 384h2v4h-2zM619 384h3v5h-3zM622 384h4v4h-4zM626 384h38v5h-38zM664 383h3v5h-3zM667 384h1v5h-1zM668 384h1v4h-1zM669 384h1v5h-1zM670 384h1v4h-1zM671 384h5v5h-5zM676 383h1v6h-1zM677 382h1v6h-1zM678 380h1v8h-1zM679 377h1v10h-1zM680 376h1v9h-1zM681 376h1v8h-1zM682 376h1v5h-1zM683 376h1v8h-1zM684 376h1v9h-1zM685 378h1v8h-1zM686 380h1v7h-1zM687 382h1v6h-1zM688 383h1v5h-1zM689 384h1v4h-1zM690 383h2v5h-2zM692 382h1v6h-1zM693 382h1v5h-1zM694 381h1v6h-1zM695 381h3v5h-3zM698 381h1v6h-1zM699 382h1v5h-1zM700 383h2v5h-2zM702 384h12v5h-12zM714 384h1v4h-1zM715 384h3v5h-3zM718 384h3v4h-3zM721 384h4v5h-4zM725 384h4v4h-4zM729 384h5v5h-5zM734 384h4v4h-4zM738 383h1v6h-1zM739 383h4v5h-4zM743 383h2v4h-2zM745 382h2v5h-2zM747 382h1v4h-1zM748 381h4v5h-4zM752 381h1v4h-1zM753 381h1v5h-1zM754 380h4v5h-4zM758 381h3v5h-3zM761 382h3v5h-3zM764 383h2v4h-2zM766 383h3v5h-3zM769 383h2v6h-2zM771 383h1v5h-1zM772 383h3v6h-3zM775 383h1v5h-1zM776 381h1v7h-1zM777 380h1v8h-1zM778 379h1v8h-1zM779 377h1v9h-1zM780 377h1v7h-1zM781 376h1v6h-1zM782 377h1v5h-1zM783 377h1v7h-1zM784 378h1v7h-1zM785 379h1v6h-1zM786 380h1v6h-1zM787 381h1v5h-1zM788 381h1v4h-1zM789 381h3v5h-3zM792 382h1v5h-1zM793 382h1v6h-1zM794 383h2v5h-2zM796 384h7v4h-7zM803 384h3v5h-3zM806 386h1v2h-1z"/>
<path fill="#000000" d="M67 464h2v3h-2zM69 463h2v5h-2zM71 464h1v4h-1zM72 463h1v5h-1zM73 463h2v4h-2zM75 462h1v5h-1zM76 461h1v6h-1zM77 459h1v7h-1zM78 458h1v7h-1zM79 457h1v7h-1zM80 456h1v7h-1zM81 455h1v7h-1zM82 453h1v8h-1zM83 452h1v8h-1zM84 452h1v7h-1zM85 451h1v7h-1zM86 451h1v4h-1zM87 451h2v5h-2zM89 451h1v6h-1zM90 452h1v7h-1zM91 453h1v7h-1zM92 454h1v7h-1zM93 455h1v7h-1zM94 457h1v7h-1zM95 458h1v7h-1zM96 459h1v6h-1zM97 460h1v6h-1zM98 461h1v6h-1zM99 462h1v5h-1zM100 463h1v4h-1zM101 462h2v5h-2zM103 463h4v5h-4zM107 464h1v4h-1zM108 464h1v5h-1zM109 463h2v6h-2zM111 463h3v5h-3zM114 464h5v4h-5zM119 463h3v5h-3zM122 464h1v4h-1zM123 463h1v6h-1zM124 463h2v5h-2zM126 464h2v4h-2zM128 464h1v5h-1zM129 464h3v4h-3zM132 463h3v5h-3zM135 464h4v4h-4zM139 463h3v5h-3zM142 464h1v4h-1zM143 463h4v5h-4zM147 464h4v4h-4zM151 463h5v5h-5zM156 464h1v4h-1zM157 463h4v5h-4zM161 464h2v4h-2zM163 463h1v5h-1zM164 464h4v5h-4zM168 464h6v4h-6zM174 463h1v5h-1zM175 464h2v4h-2zM177 463h5v5h-5zM182 464h2v4h-2zM184 463h11v5h-11zM195 464h6v4h-6zM201 463h5v5h-5zM206 463h2v4h-2zM208 462h3v5h-3zM211 463h1v4h-1zM212 462h1v5h-1zM213 461h1v6h-1zM214 461h1v5h-1zM215 461h3v4h-3zM218 460h4v5h-4zM222 461h4v5h-4zM226 460h1v6h-1zM227 459h1v7h-1zM228 455h1v10h-1zM229 449h1v15h-1zM230 442h1v21h-1zM231 434h1v26h-1zM232 425h1v31h-1zM233 419h1v31h-1zM234 417h1v27h-1zM235 416h1v19h-1zM236 416h1v14h-1zM237 416h1v22h-1zM238 417h1v29h-1zM239 421h1v32h-1zM240 428h1v30h-1zM241 436h1v25h-1zM242 445h1v18h-1zM243 452h1v12h-1zM244 457h1v8h-1zM245 460h1v6h-1zM246 461h1v6h-1zM247 462h1v5h-1zM248 463h4v4h-4zM252 463h6v5h-6zM258 464h4v4h-4zM262 464h1v5h-1zM263 464h9v4h-9zM272 463h10v5h-10zM282 464h7v4h-7zM289 464h1v5h-1zM290 464h1v4h-1zM291 463h4v5h-4zM295 462h3v6h-3zM298 462h1v5h-1zM299 461h1v6h-1zM300 460h1v6h-1zM301 456h1v9h-1zM302 443h1v21h-1zM303 420h1v43h-1zM304 400h1v61h-1zM305 398h1v59h-1zM306 398h2v47h-2zM308 398h1v50h-1zM309 407h1v41h-1zM310 429h1v19h-1zM311 432h1v16h-1zM312 427h1v19h-1zM313 423h1v20h-1zM314 421h1v18h-1zM315 420h1v13h-1zM316 420h1v14h-1zM317 421h1v21h-1zM318 422h1v27h-1zM319 426h1v28h-1zM320 432h1v27h-1zM321 441h1v20h-1zM322 448h1v15h-1zM323 453h1v11h-1zM324 458h1v7h-1zM325 460h2v5h-2zM327 459h1v6h-1zM328 458h1v6h-1zM329 457h2v6h-2zM331 458h1v7h-1zM332 459h1v7h-1zM333 460h1v7h-1zM334 462h2v6h-2zM336 463h3v5h-3zM339 462h2v6h-2zM341 462h2v5h-2zM343 461h2v5h-2zM345 460h1v6h-1zM346 460h4v5h-4zM350 460h1v6h-1zM351 461h2v5h-2zM353 462h1v4h-1zM354 462h2v5h-2zM356 462h2v6h-2zM358 463h2v5h-2zM360 464h1v4h-1zM361 463h1v5h-1zM362 463h2v6h-2zM364 464h1v5h-1zM365 464h2v4h-2zM367 463h8v5h-8zM375 464h1v4h-1zM376 463h3v5h-3zM379 464h2v4h-2zM381 463h2v5h-2zM383 463h1v4h-1zM384 462h2v5h-2zM386 461h1v6h-1zM387 459h1v7h-1zM388 457h1v8h-1zM389 456h1v8h-1zM390 454h1v8h-1zM391 453h1v8h-1zM392 452h1v8h-1zM393 452h2v5h-2zM395 452h1v6h-1zM396 452h1v8h-1zM397 454h1v7h-1zM398 455h1v8h-1zM399 456h1v8h-1zM400 458h1v7h-1zM401 460h1v6h-1zM402 461h1v5h-1zM403 462h1v5h-1zM404 463h1v4h-1zM405 463h8v5h-8zM413 464h1v4h-1zM414 463h2v5h-2zM416 462h3v6h-3zM419 463h5v5h-5zM424 464h3v4h-3zM427 463h8v5h-8zM435 464h3v4h-3zM438 463h1v6h-1zM439 463h6v5h-6zM445 464h1v4h-1zM446 463h2v5h-2zM448 463h1v4h-1zM449 461h1v6h-1zM450 454h1v13h-1zM451 446h1v20h-1zM452 438h1v26h-1zM453 436h1v26h-1zM454 436h1v20h-1zM455 436h1v19h-1zM456 436h1v25h-1zM457 439h1v25h-1zM458 446h1v19h-1zM459 453h1v13h-1zM460 460h1v7h-1zM461 462h1v5h-1zM462 463h3v5h-3zM465 463h1v4h-1zM466 463h1v5h-1zM467 462h1v6h-1zM468 461h1v7h-1zM469 460h1v7h-1zM470 459h1v6h-1zM471 458h1v6h-1zM472 458h2v5h-2zM474 458h1v6h-1zM475 459h1v6h-1zM476 460h2v5h-2zM478 460h1v4h-1zM479 459h1v5h-1zM480 458h1v6h-1zM481 456h1v7h-1zM482 455h1v7h-1zM483 454h1v7h-1zM484 454h1v6h-1zM485 453h3v5h-3zM488 453h1v6h-1zM489 454h1v6h-1zM490 454h1v7h-1zM491 455h1v8h-1zM492 457h1v6h-1zM493 458h1v6h-1zM494 459h1v6h-1zM495 460h1v6h-1zM496 461h1v6h-1zM497 462h2v5h-2zM499 463h6v5h-6zM505 464h1v4h-1zM506 463h4v5h-4zM510 464h1v4h-1zM511 463h3v5h-3zM514 462h2v6h-2zM516 463h1v4h-1zM517 462h1v5h-1zM518 461h1v6h-1zM519 461h1v5h-1zM520 460h1v5h-1zM521 459h2v5h-2zM523 459h2v4h-2zM525 459h1v5h-1zM526 458h2v6h-2zM528 457h1v6h-1zM529 452h1v11h-1zM530 447h1v16h-1zM531 443h1v18h-1zM532 442h1v16h-1zM533 441h1v12h-1zM534 441h1v11h-1zM535 442h1v13h-1zM536 443h1v14h-1zM537 446h1v13h-1zM538 451h1v9h-1zM539 454h2v6h-2zM541 454h3v5h-3zM544 454h1v6h-1zM545 455h1v6h-1zM546 455h1v7h-1zM547 456h1v7h-1zM548 457h1v7h-1zM549 458h1v7h-1zM550 459h1v7h-1zM551 461h1v5h-1zM552 461h1v6h-1zM553 462h2v5h-2zM555 463h6v5h-6zM561 463h1v6h-1zM562 464h1v5h-1zM563 463h1v6h-1zM564 463h2v5h-2zM566 463h1v6h-1zM567 463h4v5h-4zM571 462h1v6h-1zM572 461h1v7h-1zM573 461h1v6h-1zM574 457h1v9h-1zM575 455h1v10h-1zM576 452h1v12h-1zM577 448h1v14h-1zM578 445h1v13h-1zM579 444h1v12h-1zM580 443h1v10h-1zM581 443h1v7h-1zM582 443h1v10h-1zM583 444h1v13h-1zM584 446h1v13h-1zM585 448h1v14h-1zM586 452h1v12h-1zM587 456h1v9h-1zM588 458h1v8h-1zM589 461h1v5h-1zM590 462h2v4h-2zM592 462h3v5h-3zM595 461h1v5h-1zM596 460h1v6h-1zM597 460h1v5h-1zM598 459h1v5h-1zM599 459h3v4h-3zM602 458h1v5h-1zM603 459h2v5h-2zM605 460h1v5h-1zM606 461h2v5h-2zM608 462h2v5h-2zM610 463h1v4h-1zM611 463h5v5h-5zM616 464h2v4h-2zM618 463h1v5h-1zM619 464h2v4h-2zM621 464h3v5h-3zM624 464h3v4h-3zM627 464h1v5h-1zM628 464h3v4h-3zM631 463h1v5h-1zM632 463h3v6h-3zM635 463h2v5h-2zM637 463h1v6h-1zM638 464h1v4h-1zM639 463h3v5h-3zM642 464h2v4h-2zM644 464h5v5h-5zM649 463h6v5h-6zM655 464h2v4h-2zM657 463h4v5h-4zM661 464h2v4h-2zM663 464h2v5h-2zM665 463h1v6h-1zM666 463h2v5h-2zM668 464h5v4h-5zM673 463h2v5h-2zM675 462h1v6h-1zM676 460h1v7h-1zM677 458h1v8h-1zM678 456h1v9h-1zM679 455h1v8h-1zM680 454h1v8h-1zM681 454h1v7h-1zM682 455h1v8h-1zM683 456h1v9h-1zM684 458h1v8h-1zM685 460h1v7h-1zM686 462h1v5h-1zM687 463h5v5h-5zM692 464h5v4h-5zM697 464h2v5h-2zM699 463h1v6h-1zM700 463h1v5h-1zM701 463h1v6h-1zM702 464h4v5h-4zM706 464h1v4h-1zM707 463h4v5h-4zM711 463h2v6h-2zM713 463h1v5h-1zM714 463h1v6h-1zM715 464h2v5h-2zM717 463h1v5h-1zM718 464h1v4h-1zM719 463h5v5h-5zM724 463h1v6h-1zM725 464h3v4h-3zM728 463h3v5h-3zM731 464h1v4h-1zM732 463h1v5h-1zM733 464h3v4h-3zM736 463h6v5h-6zM742 462h2v5h-2zM744 461h1v6h-1zM745 461h2v5h-2zM747 460h1v5h-1zM748 459h1v6h-1zM749 459h1v5h-1zM750 458h2v6h-2zM752 459h3v4h-3zM755 459h1v5h-1zM756 459h1v6h-1zM757 460h2v5h-2zM759 460h1v6h-1zM760 461h1v5h-1zM761 461h1v6h-1zM762 462h1v5h-1zM763 462h1v4h-1zM764 462h2v5h-2zM766 462h1v4h-1zM767 462h2v5h-2zM769 463h2v4h-2zM771 462h2v5h-2zM773 461h1v6h-1zM774 459h2v7h-2zM776 457h1v7h-1zM777 455h2v8h-2zM779 454h1v7h-1zM780 454h1v5h-1zM781 454h1v6h-1zM782 455h1v5h-1zM783 455h1v6h-1zM784 456h1v6h-1zM785 457h1v6h-1zM786 458h1v6h-1zM787 459h1v6h-1zM788 460h1v5h-1zM789 460h1v6h-1zM790 461h1v6h-1zM791 462h2v5h-2zM793 463h1v4h-1zM794 463h2v5h-2zM796 464h2v4h-2zM798 463h8v5h-8zM806 464h1v2h-1z"/>
</g></g>
<g fill="#000">
<rect x="226.1" y="1521.6" width="9.6" height="60.6" rx="2.5"/>
<rect x="555.3" y="1551.0" width="9.6" height="31.2" rx="2.5"/>
<rect x="603.1" y="1448.8" width="9.6" height="133.4" rx="2.5"/>
<rect x="781.8" y="1478.8" width="9.6" height="103.4" rx="2.5"/>
<rect x="806.9" y="1454.4" width="9.6" height="127.8" rx="2.5"/>
<rect x="844.7" y="1559.0" width="9.6" height="23.2" rx="2.5"/>
<rect x="892.6" y="1556.0" width="9.6" height="26.2" rx="2.5"/>
<rect x="1008.5" y="1534.0" width="9.6" height="48.2" rx="2.5"/>
<rect x="1080.4" y="1569.0" width="9.6" height="13.2" rx="2.5"/>
<rect x="1164.7" y="1528.8" width="9.6" height="53.4" rx="2.5"/>
<rect x="1212.0" y="1559.0" width="9.6" height="23.2" rx="2.5"/>
<rect x="1247.4" y="1541.2" width="9.6" height="41.0" rx="2.5"/>
<rect x="1342.6" y="1561.0" width="9.6" height="21.2" rx="2.5"/>
<rect x="1365.8" y="1541.9" width="9.6" height="40.3" rx="2.5"/>
<rect x="1392.8" y="1549.0" width="9.6" height="33.2" rx="2.5"/>
<rect x="1488.5" y="1534.0" width="9.6" height="48.2" rx="2.5"/>
<rect x="1540.9" y="1556.9" width="9.6" height="25.3" rx="2.5"/>
<rect x="1608.8" y="1569.0" width="9.6" height="13.2" rx="2.5"/>
<rect x="1745.5" y="1557.0" width="9.6" height="25.2" rx="2.5"/>
<rect x="1783.1" y="1567.0" width="9.6" height="15.2" rx="2.5"/>
<rect x="1805.5" y="1569.0" width="9.6" height="13.2" rx="2.5"/>
<rect x="1871.2" y="1566.0" width="9.6" height="16.2" rx="2.5"/>
<rect x="1889.9" y="1566.0" width="9.6" height="16.2" rx="2.5"/>
<rect x="1908.2" y="1564.7" width="9.6" height="17.5" rx="2.5"/>
<rect x="1931.5" y="1554.4" width="9.6" height="27.8" rx="2.5"/>
<rect x="1999.1" y="1561.0" width="9.6" height="21.2" rx="2.5"/>
<rect x="2011.5" y="1562.0" width="9.6" height="20.2" rx="2.5"/>
<rect x="2035.3" y="1569.0" width="9.6" height="13.2" rx="2.5"/>
<rect x="2056.9" y="1568.0" width="9.6" height="14.2" rx="2.5"/>
</g>
<g fill="#000">
<rect x="173.3" y="1576.2" width="10" height="37.8" rx="2.5"/>
<rect x="306.5" y="1576.2" width="10" height="22.4" rx="2.5"/>
<rect x="442.4" y="1576.2" width="10" height="37.8" rx="2.5"/>
<rect x="577.9" y="1576.2" width="10" height="22.4" rx="2.5"/>
<rect x="713.8" y="1576.2" width="10" height="37.8" rx="2.5"/>
<rect x="849.4" y="1576.2" width="10" height="22.4" rx="2.5"/>
<rect x="983.2" y="1576.2" width="10" height="37.8" rx="2.5"/>
<rect x="1119.1" y="1576.2" width="10" height="22.4" rx="2.5"/>
<rect x="1255.0" y="1576.2" width="10" height="37.8" rx="2.5"/>
<rect x="1390.6" y="1576.2" width="10" height="22.4" rx="2.5"/>
<rect x="1523.7" y="1576.2" width="10" height="37.8" rx="2.5"/>
<rect x="1660.3" y="1576.2" width="10" height="22.4" rx="2.5"/>
<rect x="1795.8" y="1576.2" width="10" height="37.8" rx="2.5"/>
<rect x="1931.4" y="1576.2" width="10" height="22.4" rx="2.5"/>
<rect x="2064.6" y="1576.2" width="10" height="37.8" rx="2.5"/>
</g>
<g font-family="'Liberation Serif', 'Times New Roman', Times, serif" font-weight="bold" fill="#000">
<text transform="translate(0 1706.50) scale(1.0784 1)" font-size="97" font-weight="bold" fill="#000"><tspan x="116.42" y="0">10</tspan></text>
<text transform="translate(0 1706.50) scale(1.0521 1)" font-size="97" font-weight="bold" fill="#000"><tspan x="378.09" y="0">20</tspan></text>
<text transform="translate(0 1706.50) scale(1.0682 1)" font-size="97" font-weight="bold" fill="#000"><tspan x="623.50" y="0">30</tspan></text>
<text transform="translate(0 1706.50) scale(1.0272 1)" font-size="97" font-weight="bold" fill="#000"><tspan x="915.34" y="0">40</tspan></text>
<text transform="translate(0 1706.50) scale(1.0648 1)" font-size="97" font-weight="bold" fill="#000"><tspan x="1134.67" y="0">50</tspan></text>
<text transform="translate(0 1706.50) scale(1.0356 1)" font-size="97" font-weight="bold" fill="#000"><tspan x="1429.12" y="0">60</tspan></text>
<text transform="translate(0 1706.50) scale(1.0895 1)" font-size="97" font-weight="bold" fill="#000"><tspan x="1603.56" y="0">70</tspan></text>
<text transform="translate(0 1706.50) scale(1.0433 1)" font-size="97" font-weight="bold" fill="#000"><tspan x="1937.17" y="0">80</tspan></text>
<text transform="translate(0 1832.90) scale(1.0142 1)" font-size="125" font-weight="bold" fill="#000"><tspan x="665.30" y="0">2</tspan> <tspan x="758.72" y="0">Theta</tspan> <tspan x="1102.54" y="0">(degree)</tspan></text>
<text transform="translate(120.00 0) rotate(-90) scale(0.9995 1)" font-size="128" font-weight="bold" fill="#000"><tspan x="-1188.08" y="0">Intensity</tspan> <tspan x="-674.76" y="0">(a.u.)</tspan></text>
<text transform="translate(270.50 0) rotate(-90) scale(1.0074 1)" font-size="97" font-weight="bold" fill="#000"><tspan x="-1494.46" y="0">(001)</tspan></text>
<text transform="translate(537.80 0) rotate(-90) scale(1.0223 1)" font-size="97" font-weight="bold" fill="#000"><tspan x="-1497.89" y="0">(002)</tspan></text>
<text transform="translate(640.50 0) rotate(-90) scale(1.0273 1)" font-size="97" font-weight="bold" fill="#000"><tspan x="-1395.77" y="0">(101)</tspan></text>
<text transform="translate(776.60 0) rotate(-90) scale(1.0497 1)" font-size="97" font-weight="bold" fill="#000"><tspan x="-1406.20" y="0">(110)</tspan></text>
<text transform="translate(867.10 0) rotate(-90) scale(1.0223 1)" font-size="97" font-weight="bold" fill="#000"><tspan x="-1406.92" y="0">(102)</tspan></text>
<text transform="translate(975.50 0) rotate(-90) scale(1.0258 1)" font-size="97" font-weight="bold" fill="#000"><tspan x="-1500.34" y="0">(003)</tspan></text>
<text transform="translate(1073.80 0) rotate(-90) scale(1.0548 1)" font-size="97" font-weight="bold" fill="#000"><tspan x="-1433.46" y="0">(112)</tspan></text>
<text transform="translate(1183.70 0) rotate(-90) scale(1.0273 1)" font-size="97" font-weight="bold" fill="#000"><tspan x="-1471.70" y="0">(200)</tspan></text>
<text transform="translate(1272.00 0) rotate(-90) scale(1.0522 1)" font-size="97" font-weight="bold" fill="#000"><tspan x="-1457.64" y="0">(113)</tspan></text>
<text transform="translate(1367.80 0) rotate(-90) scale(1.0522 1)" font-size="97" font-weight="bold" fill="#000"><tspan x="-1457.64" y="0">(211)</tspan></text>
<text transform="translate(1465.60 0) rotate(-90) scale(1.0328 1)" font-size="97" font-weight="bold" fill="#000"><tspan x="-1498.89" y="0">(104)</tspan></text>
<text transform="translate(1558.80 0) rotate(-90) scale(1.0129 1)" font-size="97" font-weight="bold" fill="#000"><tspan x="-1514.07" y="0">(212)</tspan></text>
<text transform="translate(0 216.40) scale(1.0375 1)" font-size="98" font-weight="bold" fill="#008080"><tspan x="1332.56" y="0">C/4Er</tspan><tspan x="1586.04" y="-47.10" font-size="59.5">3</tspan><tspan x="1614.56" y="-46.40" font-size="67.5">+</tspan><tspan x="1645.75" y="0">:BiOCl</tspan></text>
<text transform="translate(0 445.40) scale(1.0358 1)" font-size="98" font-weight="bold" fill="#ff00ff"><tspan x="1337.49" y="0">C/3Er</tspan><tspan x="1590.37" y="-47.10" font-size="59.5">3</tspan><tspan x="1618.94" y="-46.40" font-size="67.5">+</tspan><tspan x="1650.74" y="0">:BiOCl</tspan></text>
<text transform="translate(0 682.10) scale(1.0377 1)" font-size="98" font-weight="bold" fill="#0000ff"><tspan x="1326.06" y="0">C/2Er</tspan><tspan x="1577.97" y="-47.10" font-size="59.5">3</tspan><tspan x="1606.49" y="-46.40" font-size="67.5">+</tspan><tspan x="1638.18" y="0">:BiOCl</tspan></text>
<text transform="translate(0 921.20) scale(1.0244 1)" font-size="98" font-weight="bold" fill="#ff0000"><tspan x="1601.13" y="0">C/BiOCl</tspan></text>
<text transform="translate(0 1132.30) scale(1.0129 1)" font-size="98" font-weight="bold" fill="#000"><tspan x="1714.16" y="0">BiOCl</tspan></text>
<text transform="translate(0 1296.70) scale(1.0180 1)" font-size="98" font-weight="bold" fill="#000"><tspan x="1338.09" y="0">JCPDS</tspan> <tspan x="1663.18" y="0">06-0249</tspan></text>
</g>
</svg>
</body></html>
